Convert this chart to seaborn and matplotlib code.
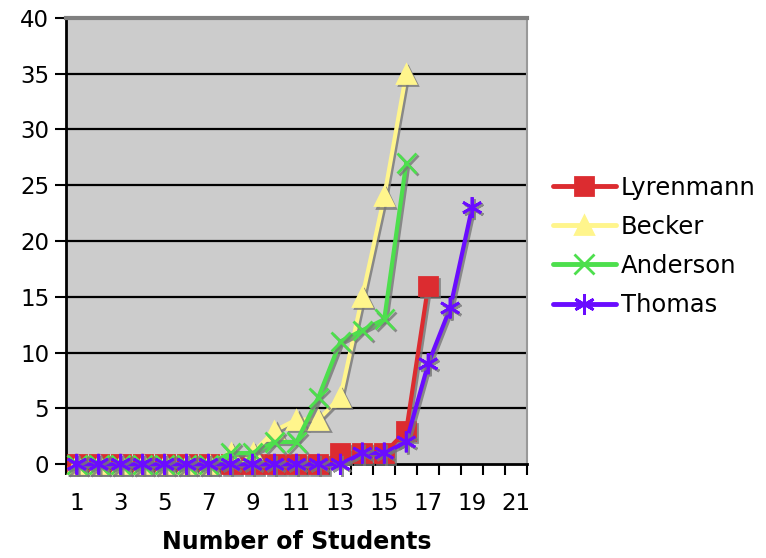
import numpy as np
import pandas as pd
import seaborn as sns
import matplotlib.pyplot as plt
import matplotlib.patheffects as pe

# values (cumulative counts per number of students)
lyrenmann = [0, 0, 0, 0, 0, 0, 0, 0, 0, 0, 0, 0, 1, 1, 1, 3, 16]
becker = [0, 0, 0, 0, 0, 0, 0, 1, 1, 3, 4, 4, 6, 15, 24, 35]
anderson = [0, 0, 0, 0, 0, 0, 0, 1, 1, 2, 2, 6, 11, 12, 13, 27]
thomas = [0, 0, 0, 0, 0, 0, 0, 0, 0, 0, 0, 0, 0, 1, 1, 2, 9, 14, 23]

series_names = ["Lyrenmann", "Becker", "Anderson", "Thomas"]
series_values = [lyrenmann, becker, anderson, thomas]
colors = ["#dc2c30", "#fff58c", "#4ddf4d", "#6a0cff"]
markers = ["s", "^", "x", (6, 2, 0)]
marker_sizes = [13, 13, 14, 15]

n_categories = 21
x_labels = [str(i) for i in range(1, n_categories + 1, 2)]

rows = []
for name, vals in zip(series_names, series_values):
    for i, v in enumerate(vals):
        rows.append({"students": i + 1, "value": v, "name": name})
df = pd.DataFrame(rows)

sns.set_theme(style="white")
plt.rcParams['font.family'] = ['DejaVu Sans']
plt.rcParams['text.color'] = 'black'
plt.rcParams['xtick.labelcolor'] = 'black'
plt.rcParams['ytick.labelcolor'] = 'black'
plt.rcParams['axes.labelcolor'] = 'black'

fig = plt.figure(figsize=(7.66, 5.58), dpi=100)
ax = fig.add_axes([0.086, 0.168, 0.602, 0.800])
ax.set_facecolor("#cccccc")

shadow = [pe.SimpleLineShadow(offset=(1.5, -1.5), shadow_color="#777777", alpha=0.8), pe.Normal()]

for name, color, mk, ms in zip(series_names, colors, markers, marker_sizes):
    sub = df[df["name"] == name]
    sns.lineplot(data=sub, x="students", y="value", ax=ax, color=color,
                 linewidth=3, marker=mk, markersize=ms, markeredgecolor=color,
                 markeredgewidth=2, label=name, path_effects=shadow,
                 clip_on=False, zorder=3)

# horizontal grid lines
for y in range(5, 41, 5):
    ax.axhline(y, color="black", linewidth=1.6, zorder=0.5)

ax.set_xlim(0.5, n_categories + 0.5)
ax.set_ylim(0, 40)
ax.set_yticks(range(0, 41, 5))
ax.set_xticks(np.arange(0.5, n_categories + 1, 1))
ax.set_xticklabels([])
ax.set_xticks(range(1, n_categories + 1, 2), minor=True)
ax.set_xticklabels(x_labels, minor=True)
ax.tick_params(axis="x", which="major", direction="out", length=8, width=1.5,
               color="black", bottom=True)
ax.tick_params(axis="x", which="minor", length=0, pad=20, labelsize=16.5)
ax.tick_params(axis="y", direction="out", length=8, width=1.5, color="black",
               left=True, labelsize=16.5, pad=4)

for side in ["left", "bottom"]:
    ax.spines[side].set_color("black")
    ax.spines[side].set_linewidth(2)
ax.spines["top"].set_color("#808080")
ax.spines["top"].set_linewidth(3)
ax.spines["right"].set_color("#999999")
ax.spines["right"].set_linewidth(1.5)

ax.set_xlabel("Number of Students", fontsize=17, fontweight="bold", labelpad=11)
ax.set_ylabel("")

leg = ax.legend(loc="center left", bbox_to_anchor=(1.008, 0.488), frameon=False,
                fontsize=17.5, handlelength=2.6, handletextpad=0.2, labelspacing=0.62)
for line in leg.get_lines():
    line.set_path_effects([])
    line.set_linewidth(3.5)

fig.savefig("out.png", dpi=100)
